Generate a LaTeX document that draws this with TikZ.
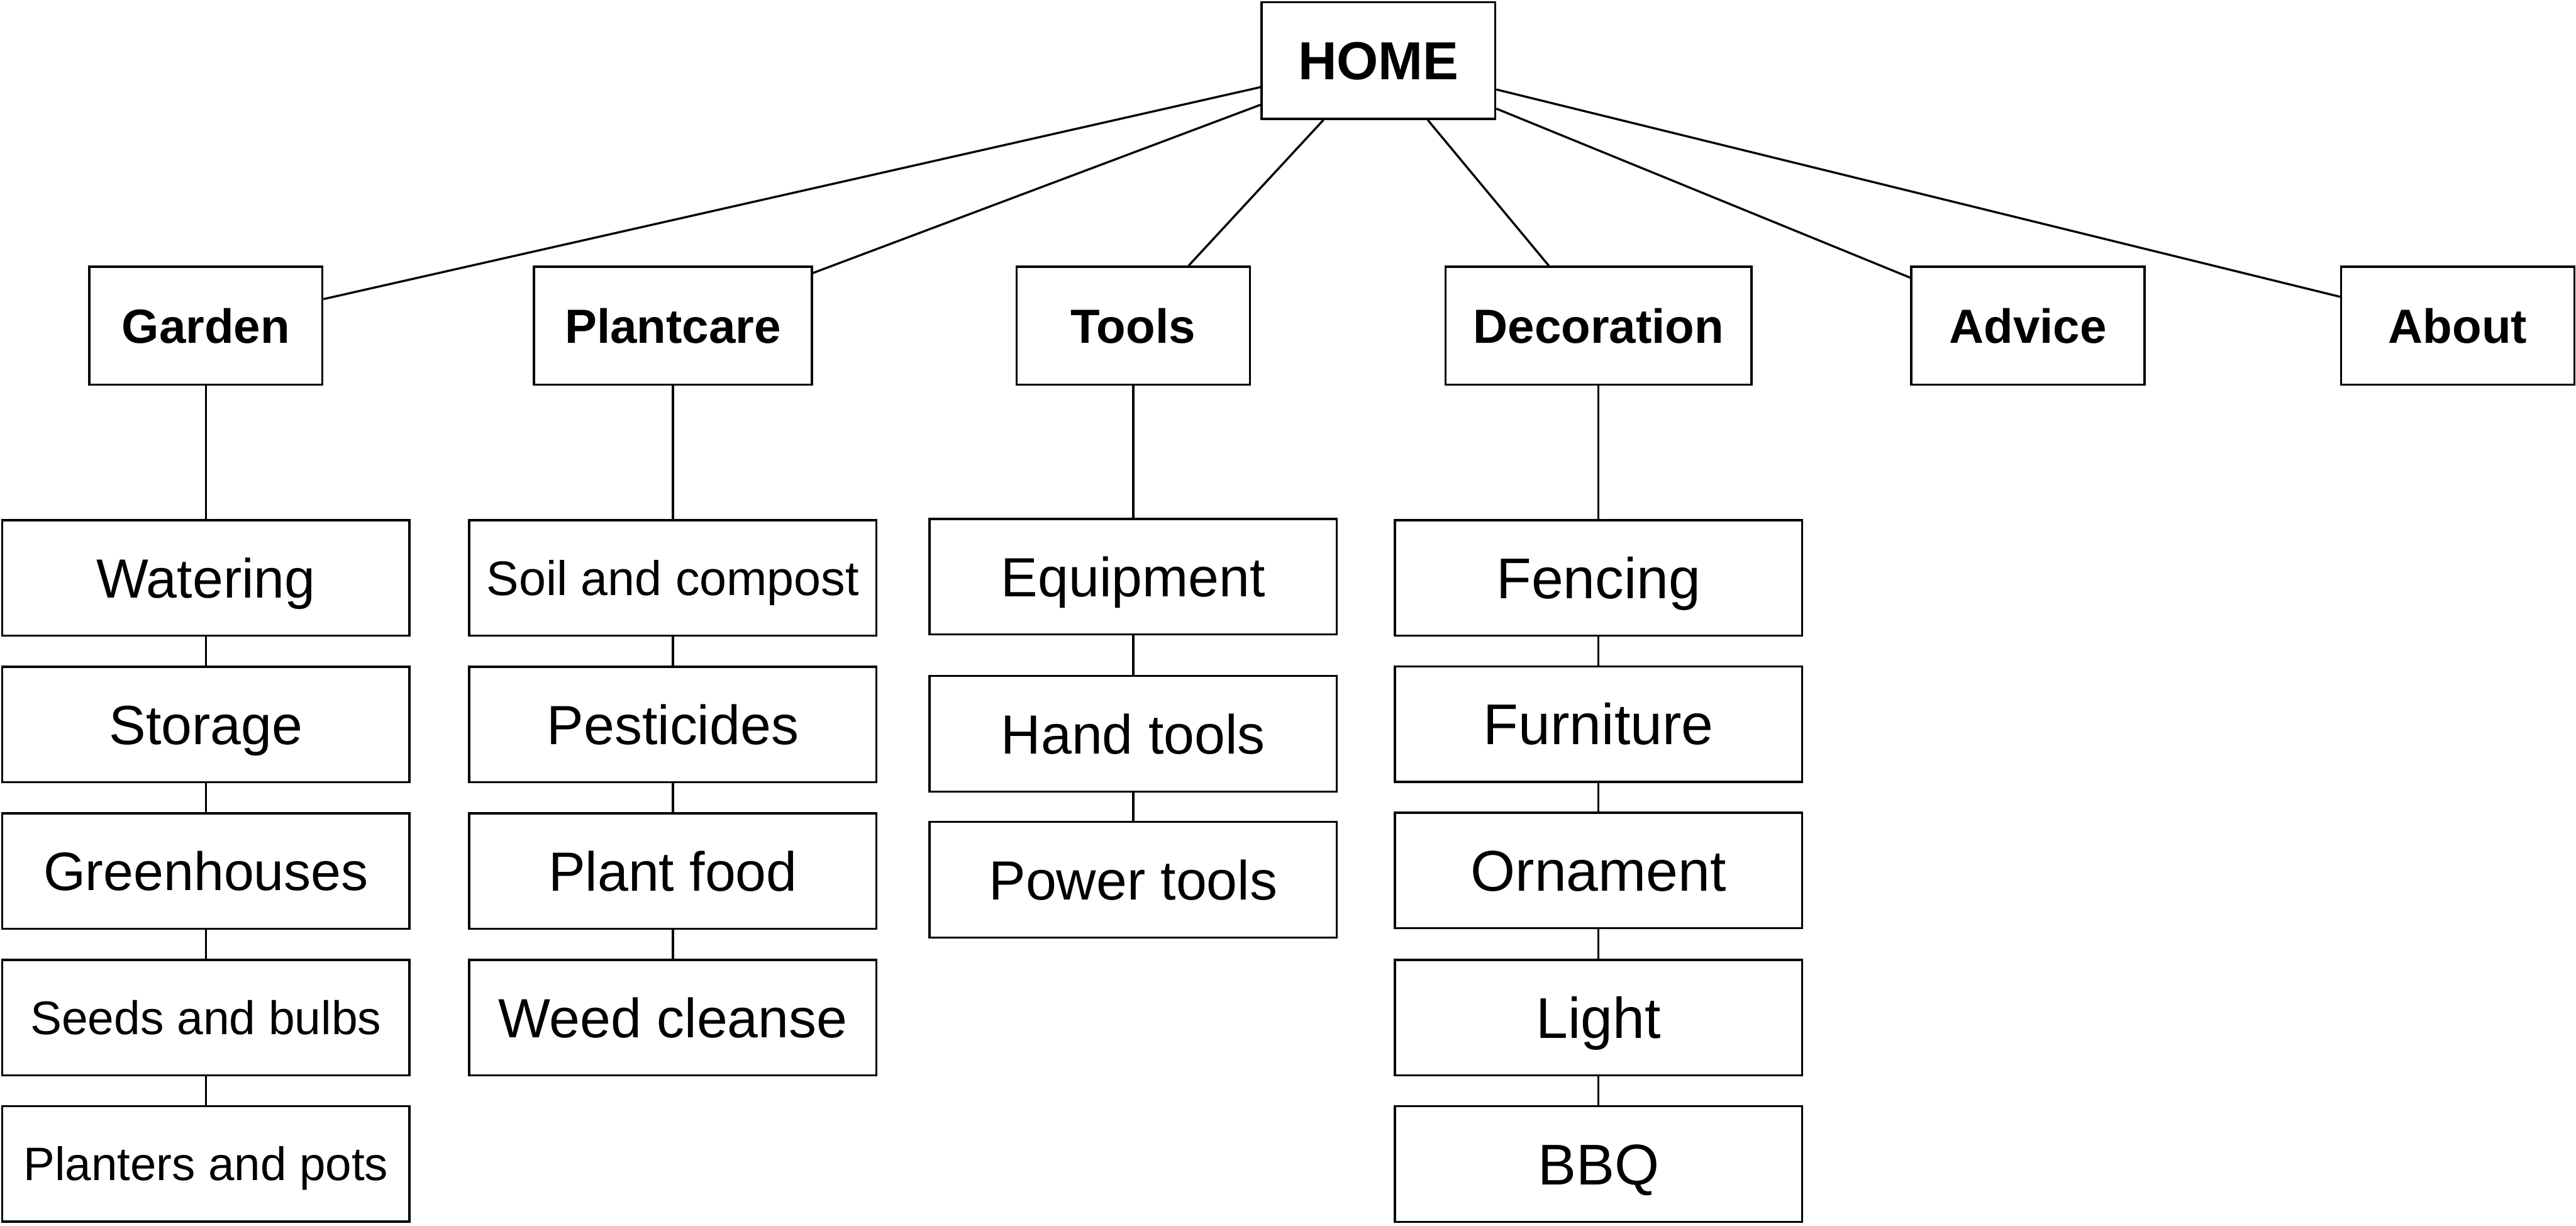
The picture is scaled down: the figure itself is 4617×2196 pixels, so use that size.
\documentclass[tikz,border=0pt]{standalone}
\usepackage{fontspec}
\setmainfont{Liberation Sans}
\begin{document}
\begin{tikzpicture}[x=0.1pt,y=-0.1pt,
  box/.style={draw=black, line width=0.38pt, fill=white, inner sep=0pt, text depth=0pt, align=center},
  homebox/.style={box, minimum width=41.9pt, minimum height=20.9pt, font=\bfseries\fontsize{9.6}{11}\selectfont, text height=6.9pt},
  topbox/.style={box, minimum height=21.1pt, font=\bfseries\fontsize{8.6}{10}\selectfont, text height=6.2pt},
  leaf/.style={box, minimum width=73pt, minimum height=20.7pt, font=\fontsize{9.9}{11}\selectfont, text height=7.1pt},
  decoleaf/.style={leaf, font=\fontsize{10.3}{12}\selectfont, text height=7.4pt},
  conn/.style={draw=black, line width=0.38pt}
]
\useasboundingbox (0,0) rectangle (4617,2196);

% root
\node[homebox] (home) at (2470.5,108.5) {HOME};

% level 1
\node[topbox, minimum width=41.8pt] (garden)     at (369,583.5)    {Garden};
\node[topbox, minimum width=49.8pt] (plantcare)  at (1206,583.5)   {Plantcare};
\node[topbox, minimum width=41.8pt] (tools)      at (2031,583.5)   {Tools};
\node[topbox, minimum width=54.8pt] (decoration) at (2865,583.5)   {Decoration};
\node[topbox, minimum width=41.8pt] (advice)     at (3634.5,583.5) {Advice};
\node[topbox, minimum width=41.8pt] (about)      at (4405,583.5)   {About};

% Garden column
\node[leaf] (g1) at (369,1035.5) {Watering};
\node[leaf] (g2) at (369,1298.5) {Storage};
\node[leaf, font=\fontsize{9.7}{11}\selectfont, text height=7.0pt] (g3) at (369,1561) {Greenhouses};
\node[leaf, font=\fontsize{8.45}{10}\selectfont, text height=6.0pt] (g4) at (369,1823.5) {Seeds and bulbs};
\node[leaf, font=\fontsize{8.4}{10}\selectfont, text height=6.0pt] (g5) at (369,2085.5) {Planters and pots};

% Plantcare column
\node[leaf, font=\fontsize{8.7}{10}\selectfont, text height=6.2pt] (p1) at (1206,1035.5) {Soil and compost};
\node[leaf] (p2) at (1206,1298.5) {Pesticides};
\node[leaf] (p3) at (1206,1561)   {Plant food};
\node[leaf] (p4) at (1206,1823.5) {Weed cleanse};

% Tools column
\node[leaf] (t1) at (2031,1033.5) {Equipment};
\node[leaf] (t2) at (2031,1315)   {Hand tools};
\node[leaf] (t3) at (2031,1576.5) {Power tools};

% Decoration column
\node[decoleaf] (d1) at (2865,1035.5) {Fencing};
\node[decoleaf] (d2) at (2865,1297.5) {Furniture};
\node[decoleaf] (d3) at (2865,1560)   {Ornament};
\node[decoleaf] (d4) at (2865,1823.5) {Light};
\node[decoleaf] (d5) at (2865,2086)   {BBQ};

% connectors from root
\foreach \n in {garden,plantcare,tools,decoration,advice,about}
  \draw[conn] (home) -- (\n);

% column connectors
\draw[conn] (garden) -- (g1);
\draw[conn] (g1) -- (g2);
\draw[conn] (g2) -- (g3);
\draw[conn] (g3) -- (g4);
\draw[conn] (g4) -- (g5);

\draw[conn] (plantcare) -- (p1);
\draw[conn] (p1) -- (p2);
\draw[conn] (p2) -- (p3);
\draw[conn] (p3) -- (p4);

\draw[conn] (tools) -- (t1);
\draw[conn] (t1) -- (t2);
\draw[conn] (t2) -- (t3);

\draw[conn] (decoration) -- (d1);
\draw[conn] (d1) -- (d2);
\draw[conn] (d2) -- (d3);
\draw[conn] (d3) -- (d4);
\draw[conn] (d4) -- (d5);
\end{tikzpicture}
\end{document}
